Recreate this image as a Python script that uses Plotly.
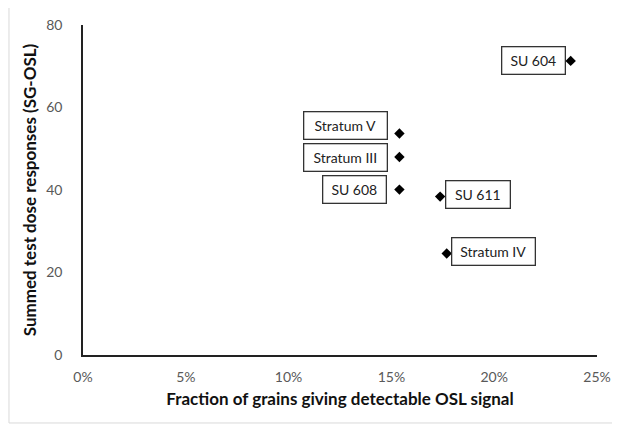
import plotly.graph_objects as go

labels = ["SU 604", "Stratum V", "Stratum III", "SU 608", "SU 611", "Stratum IV"]
fraction = [0.2372, 0.1539, 0.1539, 0.1539, 0.1737, 0.1769]
response = [71.3, 53.7, 48.0, 40.1, 38.4, 24.6]
x_ticks = [0, 0.05, 0.10, 0.15, 0.20, 0.25]
x_ticktext = ["0%", "5%", "10%", "15%", "20%", "25%"]
y_ticks = [0, 20, 40, 60, 80]

# label box offsets (pixels) relative to each point: dx, dy, width
offsets = {"SU 604": (-37, 0, 60), "Stratum V": (-54, 8, 80), "Stratum III": (-54, 0, 80),
           "SU 608": (-45, 0, 60), "SU 611": (38, 2, 61), "Stratum IV": (47, 2, 80)}

fig = go.Figure()
fig.add_trace(go.Scatter(x=fraction, y=response, mode="markers",
                         marker=dict(symbol="diamond", size=8, color="black"),
                         showlegend=False, hoverinfo="skip"))

for lab, xv, yv in zip(labels, fraction, response):
    dx, dy, w = offsets[lab]
    fig.add_annotation(x=xv, y=yv, xref="x", yref="y", text=lab, showarrow=False,
                       xshift=dx, yshift=dy, width=w, height=24,
                       bordercolor="#333333", borderwidth=1.3, bgcolor="white",
                       font=dict(family="Lato, Open Sans, sans-serif", size=14, color="#222222"))

fig.add_shape(type="rect", xref="paper", yref="paper", x0=-0.144, x1=1.07, y0=-0.206, y1=1.0545,
              line=dict(color="#d9d9d9", width=1), layer="below")

# page body has an 8px default margin, so the figure is 8px smaller and offset
fig.update_layout(
    width=612, height=419,
    margin=dict(l=75, r=23, t=17, b=72),
    paper_bgcolor="white", plot_bgcolor="white",
    font=dict(family="Lato, Open Sans, sans-serif"),
    xaxis=dict(range=[0, 0.25], tickvals=x_ticks, ticktext=x_ticktext, automargin=False,
               showgrid=False, zeroline=False, showline=True, linecolor="#222222", linewidth=1.5,
               ticks="", tickfont=dict(size=14, color="#595959"), ticklabelstandoff=8,
               title=dict(text="<b>Fraction of grains giving detectable OSL signal</b>",
                          font=dict(size=17, color="#111111"), standoff=10)),
    yaxis=dict(range=[0, 80], tickvals=y_ticks, automargin=False,
               showgrid=False, zeroline=False, showline=True, linecolor="#222222", linewidth=1.5,
               ticks="", tickfont=dict(size=14, color="#595959"), ticklabelstandoff=16,
               title=dict(text="<b>Summed test dose responses (SG-OSL)</b>",
                          font=dict(size=17, color="#111111"), standoff=5)),
)

fig.write_html("out.html")
